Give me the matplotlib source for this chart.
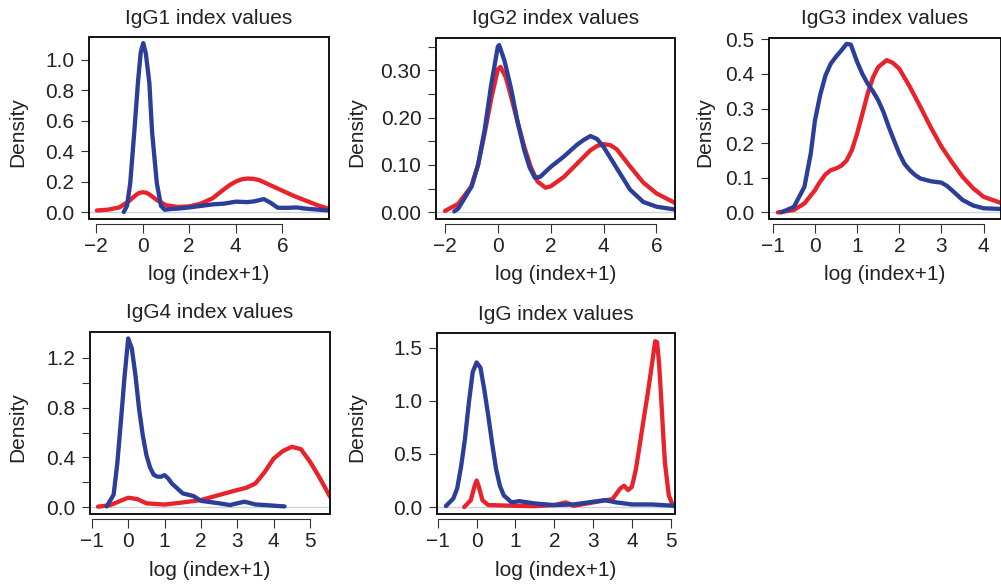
import matplotlib
matplotlib.use("Agg")
import matplotlib.pyplot as plt
from matplotlib.patches import Rectangle

plt.rcParams['font.family'] = ['Liberation Sans', 'DejaVu Sans']

# ---------------- data ----------------
titles = ["IgG1 index values", "IgG2 index values", "IgG3 index values",
          "IgG4 index values", "IgG index values"]

igg1_red_x = [-1.96, -1.5, -1, -0.6, -0.3, -0.15, 0, 0.15, 0.3, 0.6, 1, 1.5, 2, 2.5, 3, 3.5, 3.75, 4, 4.25, 4.5, 4.75, 5, 5.5, 6, 6.5, 7, 7.5, 8.0]
igg1_red_y = [0.01, 0.015, 0.03, 0.07, 0.11, 0.125, 0.13, 0.127, 0.115, 0.08, 0.045, 0.033, 0.037, 0.055, 0.09, 0.15, 0.178, 0.2, 0.215, 0.22, 0.218, 0.21, 0.175, 0.14, 0.105, 0.075, 0.045, 0.02]
igg1_blue_x = [-0.81, -0.67, -0.53, -0.36, -0.2, -0.08, 0.03, 0.14, 0.29, 0.41, 0.61, 0.79, 0.95, 1.2, 1.5, 2, 2.5, 3, 3.5, 4, 4.5, 4.8, 5.2, 5.5, 5.8, 6.2, 6.6, 7, 7.5, 8.0]
igg1_blue_y = [0.0, 0.04, 0.19, 0.52, 0.85, 1.05, 1.11, 1.04, 0.85, 0.52, 0.19, 0.04, 0.015, 0.02, 0.022, 0.03, 0.04, 0.05, 0.055, 0.068, 0.065, 0.07, 0.085, 0.06, 0.028, 0.027, 0.03, 0.022, 0.016, 0.01]

igg2_red_x = [-2.0, -1.5, -1, -0.75, -0.5, -0.25, 0, 0.1, 0.3, 0.5, 0.75, 1, 1.25, 1.5, 1.8, 2, 2.5, 3, 3.5, 3.75, 4, 4.25, 4.5, 5, 5.5, 6, 6.7]
igg2_red_y = [0.003, 0.018, 0.055, 0.1, 0.167, 0.24, 0.302, 0.307, 0.285, 0.244, 0.19, 0.138, 0.095, 0.065, 0.052, 0.055, 0.075, 0.103, 0.131, 0.14, 0.144, 0.142, 0.133, 0.097, 0.063, 0.04, 0.02]
igg2_blue_x = [-1.65, -1.5, -1, -0.75, -0.5, -0.25, 0, 0.05, 0.25, 0.5, 0.75, 1, 1.2, 1.4, 1.6, 2, 2.5, 3, 3.25, 3.5, 3.75, 4, 4.5, 5, 5.5, 6, 6.7]
igg2_blue_y = [0.002, 0.008, 0.054, 0.1, 0.174, 0.27, 0.35, 0.353, 0.32, 0.261, 0.19, 0.131, 0.095, 0.073, 0.075, 0.096, 0.118, 0.143, 0.153, 0.161, 0.155, 0.138, 0.093, 0.048, 0.022, 0.012, 0.006]

igg3_red_x = [-0.88, -0.5, -0.25, 0, 0.1, 0.25, 0.375, 0.5, 0.625, 0.75, 0.875, 1, 1.125, 1.25, 1.375, 1.5, 1.7, 1.85, 2, 2.25, 2.5, 2.75, 3, 3.25, 3.5, 3.75, 4, 4.4]
igg3_red_y = [0.0, 0.007, 0.026, 0.064, 0.085, 0.11, 0.122, 0.127, 0.135, 0.15, 0.18, 0.228, 0.285, 0.343, 0.39, 0.42, 0.44, 0.432, 0.415, 0.363, 0.305, 0.245, 0.19, 0.145, 0.103, 0.07, 0.045, 0.028]
igg3_blue_x = [-0.8, -0.5, -0.25, -0.1, 0, 0.125, 0.25, 0.375, 0.5, 0.625, 0.75, 0.85, 1, 1.125, 1.25, 1.375, 1.5, 1.625, 1.75, 1.875, 2, 2.125, 2.25, 2.375, 2.5, 2.75, 3, 3.125, 3.25, 3.375, 3.5, 3.75, 4, 4.4]
igg3_blue_y = [0.0, 0.016, 0.074, 0.17, 0.266, 0.34, 0.396, 0.43, 0.45, 0.468, 0.487, 0.485, 0.435, 0.4, 0.372, 0.35, 0.324, 0.29, 0.247, 0.208, 0.17, 0.14, 0.122, 0.108, 0.098, 0.09, 0.086, 0.077, 0.064, 0.05, 0.036, 0.02, 0.012, 0.01]

igg4_red_x = [-0.83, -0.5, -0.25, 0, 0.25, 0.5, 1, 1.5, 2, 2.5, 3, 3.25, 3.5, 3.75, 4, 4.25, 4.5, 4.75, 5, 5.25, 5.55]
igg4_red_y = [0.003, 0.015, 0.045, 0.075, 0.064, 0.03, 0.02, 0.037, 0.056, 0.097, 0.137, 0.155, 0.19, 0.28, 0.39, 0.45, 0.485, 0.466, 0.365, 0.244, 0.083]
igg4_blue_x = [-0.59, -0.4, -0.3, -0.2, -0.1, 0, 0.1, 0.2, 0.3, 0.4, 0.5, 0.6, 0.7, 0.8, 0.9, 1.0, 1.1, 1.2, 1.5, 1.8, 2, 2.5, 2.8, 3, 3.2, 3.5, 4, 4.3]
igg4_blue_y = [0.005, 0.1, 0.35, 0.69, 1.05, 1.357, 1.276, 1.06, 0.79, 0.58, 0.42, 0.32, 0.26, 0.245, 0.244, 0.257, 0.23, 0.19, 0.11, 0.088, 0.05, 0.03, 0.016, 0.03, 0.043, 0.021, 0.011, 0.005]

igg_red_x = [-0.32, -0.15, -0.05, 0, 0.05, 0.15, 0.3, 1, 1.5, 2, 2.3, 2.5, 3, 3.5, 3.7, 3.8, 3.9, 4.0, 4.1, 4.2, 4.3, 4.4, 4.5, 4.6, 4.65, 4.7, 4.75, 4.8, 4.85, 4.95, 5.05]
igg_red_y = [0.0, 0.065, 0.2, 0.25, 0.2, 0.065, 0.019, 0.012, 0.009, 0.019, 0.044, 0.012, 0.044, 0.075, 0.175, 0.2, 0.16, 0.19, 0.35, 0.58, 0.82, 1.05, 1.3, 1.56, 1.55, 1.35, 1.05, 0.72, 0.42, 0.11, 0.019]
igg_blue_x = [-0.79, -0.6, -0.5, -0.4, -0.3, -0.2, -0.1, 0, 0.1, 0.2, 0.3, 0.4, 0.5, 0.6, 0.7, 0.9, 1.1, 1.5, 2, 2.5, 3, 3.3, 3.6, 4, 4.5, 5.11]
igg_blue_y = [0.01, 0.08, 0.175, 0.38, 0.64, 0.98, 1.27, 1.36, 1.31, 1.1, 0.86, 0.6, 0.36, 0.2, 0.11, 0.044, 0.056, 0.034, 0.019, 0.025, 0.05, 0.065, 0.044, 0.025, 0.025, 0.012]

xlims = [(-2.3, 8.0), (-2.34, 6.7), (-1.09, 4.4), (-1.05, 5.55), (-1.02, 5.11)]
ylims = [(-0.046, 1.15), (-0.014, 0.368), (-0.019, 0.504), (-0.056, 1.409), (-0.065, 1.637)]
xticks = [[-2, 0, 2, 4, 6], [-2, 0, 2, 4, 6], [-1, 0, 1, 2, 3, 4], [-1, 0, 1, 2, 3, 4, 5], [-1, 0, 1, 2, 3, 4, 5]]
yticks = [[0, 0.2, 0.4, 0.6, 0.8, 1.0],
          [0, 0.05, 0.10, 0.15, 0.20, 0.25, 0.30, 0.35],
          [0, 0.1, 0.2, 0.3, 0.4, 0.5],
          [0, 0.2, 0.4, 0.6, 0.8, 1.0, 1.2],
          [0, 0.5, 1.0, 1.5]]
yticklabels = [["0.0", "0.2", "0.4", "0.6", "0.8", "1.0"],
               ["0.00", "", "0.10", "", "0.20", "", "0.30", ""],
               ["0.0", "0.1", "0.2", "0.3", "0.4", "0.5"],
               ["0.0", "", "0.4", "", "0.8", "", "1.2"],
               ["0.0", "0.5", "1.0", "1.5"]]

reds = [(igg1_red_x, igg1_red_y), (igg2_red_x, igg2_red_y), (igg3_red_x, igg3_red_y),
        (igg4_red_x, igg4_red_y), (igg_red_x, igg_red_y)]
blues = [(igg1_blue_x, igg1_blue_y), (igg2_blue_x, igg2_blue_y), (igg3_blue_x, igg3_blue_y),
         (igg4_blue_x, igg4_blue_y), (igg_blue_x, igg_blue_y)]

# ---------------- layout (pixels) ----------------
W, H = 1001, 586
boxes = [(89, 37, 329, 219), (436, 38, 675, 219), (769, 38, 1000.5, 219),
         (90, 332, 330, 514), (437, 333, 675, 514)]

RED = "#e8232b"
BLUE = "#2b3f9a"
FS = 15

fig = plt.figure(figsize=(W / 100, H / 100), dpi=100)

for i in range(5):
    l, t, r, b = boxes[i]
    ax = fig.add_axes([l / W, 1 - b / H, (r - l) / W, (b - t) / H])
    hpx = b - t
    ax.set_xlim(*xlims[i])
    ax.set_ylim(*ylims[i])
    ax.axhline(0, color="#c9d3da", lw=1.0, zorder=1)
    ax.plot(*reds[i], color=RED, lw=3.1, solid_joinstyle="round", solid_capstyle="round", zorder=3)
    ax.plot(*blues[i], color=BLUE, lw=3.1, solid_joinstyle="round", solid_capstyle="round", zorder=4)

    for s in ["top", "right", "left"]:
        ax.spines[s].set_visible(False)
    ax.spines["bottom"].set_position(("outward", 3.6))
    ax.spines["bottom"].set_bounds(xticks[i][0], xticks[i][-1])
    ax.spines["bottom"].set_linewidth(0.8)
    ax.spines["bottom"].set_color("#333333")
    ax.add_patch(Rectangle((0, 0), 1, 1, transform=ax.transAxes, fill=False,
                           lw=1.3, edgecolor="black", clip_on=False, zorder=6))

    ax.set_xticks(xticks[i])
    ax.set_xticklabels(["\u2212%d" % abs(v) if v < 0 else "%d" % v for v in xticks[i]])
    ax.set_yticks(yticks[i])
    ax.set_yticklabels(yticklabels[i])
    ax.tick_params(axis="x", direction="out", length=6.5, width=0.8, pad=3.0,
                   labelsize=FS, color="#333333", labelcolor="#222222")
    ax.tick_params(axis="y", direction="out", length=5.5, width=0.8, pad=5.0,
                   labelsize=FS, color="#333333", labelcolor="#222222")

    ax.text(0.5, 1 + 19 / hpx, titles[i], transform=ax.transAxes, ha="center",
            va="center", fontsize=FS, color="#222222")
    ax.text(0.5, -56 / hpx, "log (index+1)", transform=ax.transAxes, ha="center",
            va="center", fontsize=FS, color="#222222")
    dens_x = [18, 357, 705, 18, 357][i]
    ax.text((dens_x - l) / (r - l), 0.48, "Density", transform=ax.transAxes, ha="center",
            va="center", rotation=90, fontsize=FS, color="#222222")

fig.savefig("out.png", dpi=100)
